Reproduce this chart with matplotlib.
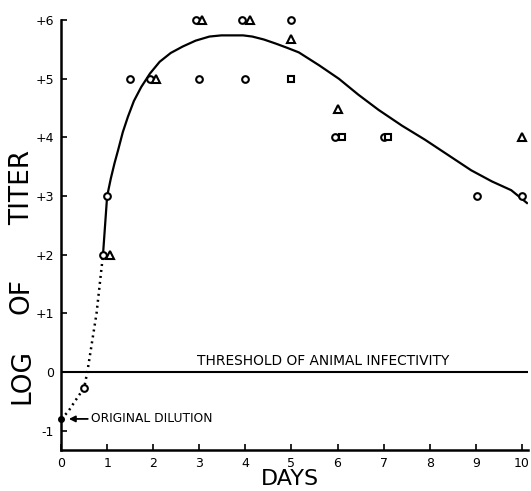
import matplotlib
matplotlib.use("Agg")
import matplotlib.pyplot as plt

# observed titers
circ_x = [0.5, 0.92, 1.0, 1.5, 1.92, 2.92, 3.0, 3.92, 4.0, 5.0, 5.94, 7.0, 9.03, 10.0]
circ_y = [-0.27, 2.0, 3.0, 5.0, 5.0, 6.0, 5.0, 6.0, 5.0, 6.0, 4.0, 4.0, 3.0, 3.0]
orig_x = [0.0]
orig_y = [-0.8]
sq_x = [5.0, 6.1, 7.1]
sq_y = [5.0, 4.0, 4.0]
tri_x = [1.07, 2.07, 3.05, 4.1, 5.0, 6.0, 10.0]
tri_y = [2.0, 5.0, 6.0, 6.0, 5.67, 4.48, 4.0]

# fitted curve
fit_x = [0.91, 1.0, 1.08, 1.16, 1.24, 1.34, 1.45, 1.58, 1.74, 1.93, 2.14, 2.38, 2.64,
         2.92, 3.22, 3.48, 3.72, 3.95, 4.15, 4.4, 4.66, 4.9, 5.16, 5.6, 6.03, 6.45,
         6.89, 7.4, 7.9, 8.4, 8.9, 9.35, 9.77, 10.13]
fit_y = [2.0, 3.0, 3.3, 3.56, 3.79, 4.09, 4.35, 4.62, 4.86, 5.09, 5.29, 5.44, 5.55,
         5.65, 5.72, 5.74, 5.74, 5.74, 5.72, 5.67, 5.6, 5.53, 5.45, 5.23, 5.0, 4.73,
         4.47, 4.2, 3.96, 3.7, 3.44, 3.25, 3.1, 2.87]
dot_x = [0.0, 0.15, 0.3, 0.5, 0.57, 0.67, 0.77, 0.84, 0.91]
dot_y = [-0.8, -0.68, -0.5, -0.27, 0.0, 0.5, 1.0, 1.5, 2.0]

xticks = list(range(0, 11))
xtick_labels = [str(v) for v in xticks]
yticks = [-1, 0, 1, 2, 3, 4, 5, 6]
ytick_labels = ["-1", "0", "+1", "+2", "+3", "+4", "+5", "+6"]
ylabel_words = ["LOG", "OF", "TITER"]

fig = plt.figure(figsize=(5.31, 4.91), dpi=100)
ax = fig.add_axes([0.115, 0.0835, 0.879, 0.8755])

ax.plot(fit_x, fit_y, color="black", lw=1.6, solid_capstyle="butt")
ax.plot(dot_x, dot_y, color="black", lw=1.8, linestyle=(0, (0.8, 1.6)))
ax.axhline(0, color="black", lw=1.5)

mk = dict(linestyle="none", markerfacecolor="white", markeredgecolor="black",
          markeredgewidth=1.5, clip_on=False)
ax.plot(circ_x, circ_y, marker="o", markersize=4.8, **mk)
ax.plot(sq_x, sq_y, marker="s", markersize=4.6, **mk)
ax.plot(tri_x, tri_y, marker="^", markersize=5.3, **mk)
ax.plot(orig_x, orig_y, marker="o", markersize=4, linestyle="none",
        color="black", clip_on=False)

ax.annotate("ORIGINAL DILUTION", xy=(0.17, -0.8), xytext=(0.64, -0.8),
            fontsize=8.8, va="center", ha="left",
            arrowprops=dict(arrowstyle="-|>", color="black", lw=1.3,
                            mutation_scale=9, shrinkA=0, shrinkB=0))
ax.text(2.95, 0.07, "THRESHOLD OF ANIMAL INFECTIVITY", fontsize=9.9,
        ha="left", va="bottom")

ax.set_xlim(0, 10.13)
ax.set_ylim(-1.33, 6.0)
ax.set_xticks(xticks)
ax.set_xticklabels(xtick_labels)
ax.set_yticks(yticks)
ax.set_yticklabels(ytick_labels)
ax.tick_params(direction="in", length=4, width=1.2, labelsize=9, pad=5)
for s in ["top", "right"]:
    ax.spines[s].set_visible(False)
for s in ["left", "bottom"]:
    ax.spines[s].set_linewidth(1.8)

W, H = 531.0, 491.0
fig.text(290 / W, 1 - 479 / H, "DAYS", fontsize=16, ha="center", va="center")
for word, yc in zip(ylabel_words, [376, 296, 187.5]):
    fig.text(22 / W, 1 - yc / H, word, fontsize=19, rotation=90,
             ha="center", va="center")

fig.savefig("out.png", dpi=100)
